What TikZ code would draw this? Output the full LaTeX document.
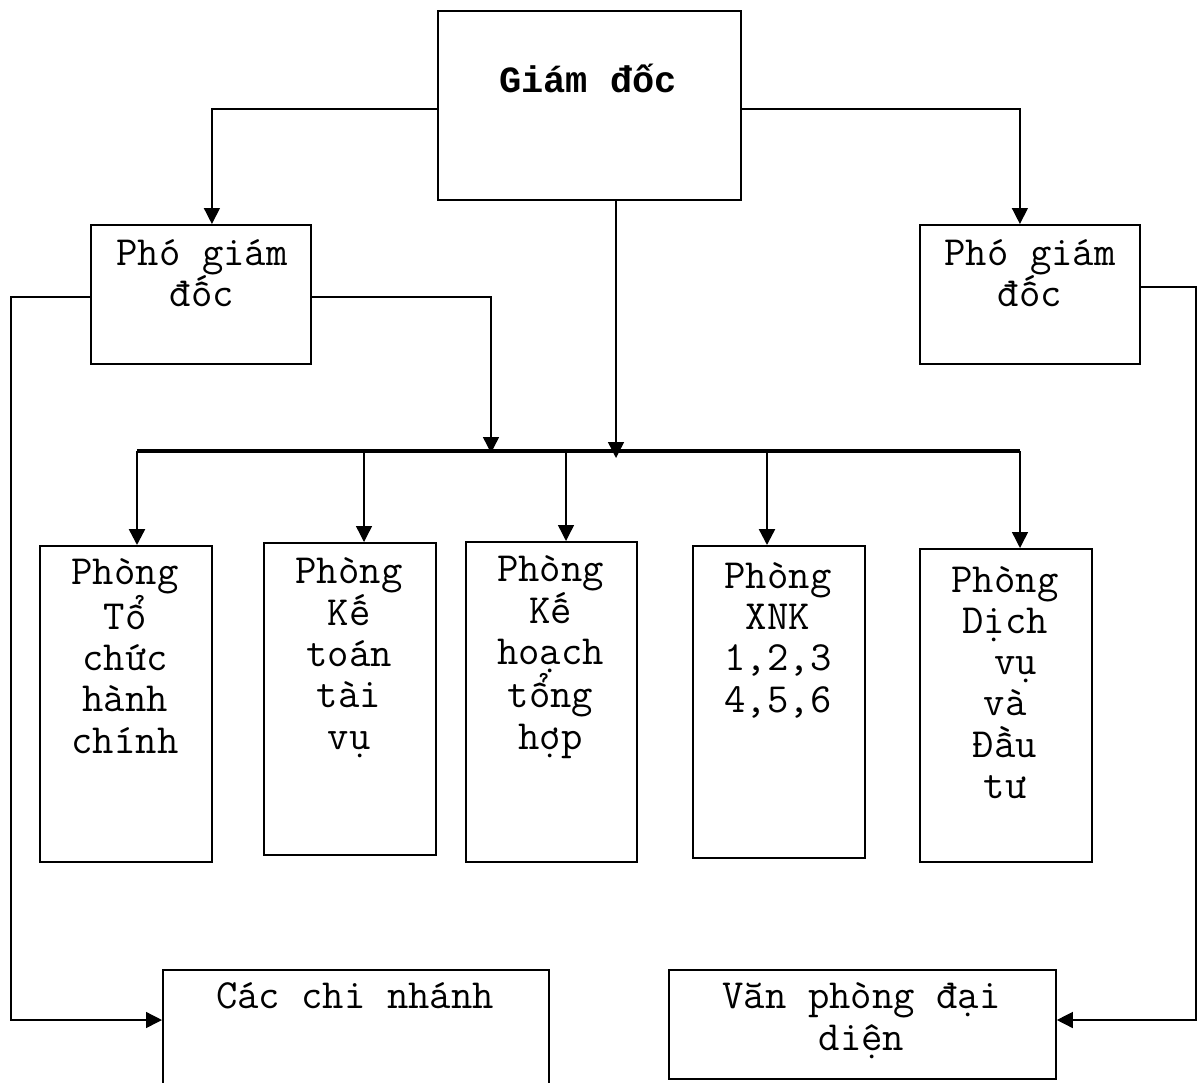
\documentclass[tikz,border=0pt]{standalone}
\usepackage{fontspec}
\newfontfamily\titlefont{Liberation Mono}
\tikzset{
  box/.style={draw, line width=1.8pt, inner sep=0pt, anchor=north west},
  txt/.style={inner sep=0pt, align=center, anchor=base, font=\ttfamily\fontsize{41.5}{41.3}\selectfont},
  conn/.style={line width=1.4pt},
  arrowhd/.style={-{Triangle[length=16pt,width=16pt]}},
  busline/.style={line width=3.2pt},
  thickdrop/.style={line width=2.4pt},
}
\usetikzlibrary{arrows.meta}
\begin{document}
\begin{tikzpicture}[x=1pt,y=-1pt]
\useasboundingbox[fill=white] (0,0) rectangle (1201,1082);
% boxes
\node[box, minimum width=303pt, minimum height=189pt] (g) at (437,10) {};
\node[box, minimum width=220pt, minimum height=139pt] (pl) at (90,224) {};
\node[box, minimum width=220pt, minimum height=139pt] (pr) at (919,224) {};
\node[box, minimum width=172pt, minimum height=316pt] (b1) at (39,545) {};
\node[box, minimum width=172pt, minimum height=312pt] (b2) at (263,542) {};
\node[box, minimum width=171pt, minimum height=320pt] (b3) at (465,541) {};
\node[box, minimum width=172pt, minimum height=312pt] (b4) at (692,545) {};
\node[box, minimum width=172pt, minimum height=313pt] (b5) at (919,548) {};
\node[box, minimum width=386pt, minimum height=140pt] (cn) at (162,969) {};
\node[box, minimum width=387pt, minimum height=109pt] (vp) at (668,969) {};
% texts (anchor = baseline of the last line)
\node[txt, font=\titlefont\fontsize{37}{41.3}\selectfont\bfseries] (tg) at (588,92) {Giám đốc};
\node[txt, font=\ttfamily\fontsize{41.5}{39.5}\selectfont] (tpl) at (202,306.5) {Phó giám\\đốc};
\node[txt, font=\ttfamily\fontsize{41.5}{39.5}\selectfont] (tpr) at (1030,306.5) {Phó giám\\đốc};
\node[txt] (t1) at (125,753) {Phòng\\Tổ\\chức\\hành\\chính};
\node[txt] (t2) at (349,749) {Phòng\\Kế\\toán\\tài\\vụ};
\node[txt] (t3) at (550.5,749) {Phòng\\Kế\\hoạch\\tổng\\hợp};
\node[txt] (t4) at (778,712) {Phòng\\XNK\\1,2,3\\4,5,6};
\node[txt] (t5) at (1005,798.5) {Phòng\\Dịch\\\hphantom{v}vụ\\và\\Đầu\\tư};
\node[txt] (tcn) at (355,1008) {Các chi nhánh};
\node[txt, font=\ttfamily\fontsize{41.5}{42}\selectfont] (tvp) at (861.5,1050) {Văn phòng đại\\diện};
% bus coordinates
\coordinate (busL) at (137,451);
\coordinate (busR) at (1020,451);
\coordinate (d2) at (364,451);
\coordinate (d3) at (566,451);
\coordinate (d4) at (767,451);
\coordinate (cIn) at (616,458);
\coordinate (lIn) at (491,453);
% connectors from director
\draw[conn, arrowhd] (g.west |- 0,109) -| ([xshift=11pt]pl.north);
\draw[conn, arrowhd] (g.east |- 0,109) -| ([xshift=-10pt]pr.north);
\draw[conn, arrowhd] (g.south -| cIn) -- (cIn);
% left deputy
\draw[conn, arrowhd] (pl.east |- 0,297) -| (lIn);
\draw[conn, arrowhd] (pl.west |- 0,297) -- (11,297) |- (cn.west |- 0,1020);
% right deputy
\draw[conn, arrowhd] (pr.east |- 0,287) -- (1196,287) |- (vp.east |- 0,1020);
% bus
\draw[busline] (busL) -- (busR);
\draw[thickdrop, arrowhd] (busL) -- (busL |- b1.north);
\draw[conn, arrowhd] (d2) -- (d2 |- b2.north);
\draw[conn, arrowhd] (d3) -- (d3 |- b3.north);
\draw[thickdrop, arrowhd] (d4) -- (d4 |- b4.north);
\draw[conn, arrowhd] (busR) -- (busR |- b5.north);
\end{tikzpicture}
\end{document}
